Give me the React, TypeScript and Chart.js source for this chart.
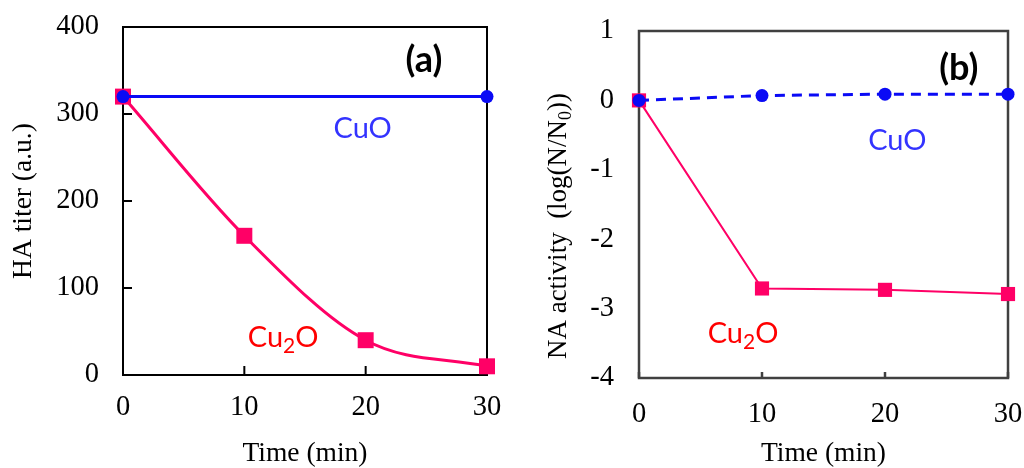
import React, { useEffect, useRef } from "react";
import { Chart, registerables } from "chart.js";
Chart.register(...registerables);

// ---- Data ----
const timeCuOA = [0, 30];
const haCuO = [320, 320];
const timeCu2OA = [0, 10, 20, 30];
const haCu2O = [320, 160, 40, 10];
const timeB = [0, 10, 20, 30];
const naCuO = [0, 0.07, 0.09, 0.09];
const naCu2O = [0, -2.71, -2.73, -2.79];
const xTickValues = [0, 10, 20, 30];
const yTicksA = [0, 100, 200, 300, 400];
const yTicksB = [-4, -3, -2, -1, 0, 1];

const PINK = "#FF0066";
const BLUE = "#0A0AF5";
const SERIF = "'Liberation Serif', 'Times New Roman', serif";
const SANS = "Lato, 'Noto Sans', sans-serif";

type Ann = {
  panel: string; panelX: number; panelY: number;
  cuoX: number; cuoY: number;
  cu2oX: number; cu2oY: number;
};

function makePlugin(opts: {
  frameColor: string; frameWidth: number;
  yTickLen: number; xTickLen: number;
  ann: Ann;
  yTitle?: { x: number; y: number };
}) {
  return {
    id: "framePlugin",
    beforeDatasetsDraw(chart: any) {
      const { ctx, chartArea: a, scales } = chart;
      ctx.save();
      ctx.strokeStyle = opts.frameColor;
      ctx.lineWidth = opts.frameWidth;
      ctx.strokeRect(a.left, a.top, a.right - a.left, a.bottom - a.top);
      ctx.beginPath();
      if (opts.xTickLen > 0) {
        for (const v of scales.x.ticks.map((t: any) => t.value)) {
          const px = scales.x.getPixelForValue(v);
          ctx.moveTo(px, a.bottom);
          ctx.lineTo(px, a.bottom - opts.xTickLen);
        }
      }
      if (opts.yTickLen > 0) {
        for (const v of scales.y.ticks.map((t: any) => t.value)) {
          const py = scales.y.getPixelForValue(v);
          ctx.moveTo(a.left, py);
          ctx.lineTo(a.left + opts.yTickLen, py);
        }
      }
      ctx.stroke();
      ctx.restore();
    },
    afterDraw(chart: any) {
      const { ctx, scales } = chart;
      const an = opts.ann;
      const X = (v: number) => scales.x.getPixelForValue(v);
      const Y = (v: number) => scales.y.getPixelForValue(v);
      ctx.save();
      ctx.textBaseline = "alphabetic";
      // panel label
      ctx.fillStyle = "#000";
      ctx.font = `bold 36px ${SANS}`;
      ctx.textAlign = "center";
      ctx.fillText(an.panel, X(an.panelX), Y(an.panelY));
      // CuO
      ctx.fillStyle = "#3333FF";
      ctx.font = `29px ${SANS}`;
      ctx.fillText("CuO", X(an.cuoX), Y(an.cuoY));
      // Cu2O
      ctx.fillStyle = "#FF0000";
      ctx.textAlign = "left";
      const big = `29px ${SANS}`;
      const small = `21px ${SANS}`;
      ctx.font = big;
      const w1 = ctx.measureText("Cu").width;
      const w3 = ctx.measureText("O").width;
      ctx.font = small;
      const w2 = ctx.measureText("2").width;
      let sx = X(an.cu2oX) - (w1 + w2 + w3) / 2;
      const by = Y(an.cu2oY);
      ctx.font = big;
      ctx.fillText("Cu", sx, by);
      sx += w1;
      ctx.font = small;
      ctx.fillText("2", sx, by + 6);
      sx += w2;
      ctx.font = big;
      ctx.fillText("O", sx, by);
      // custom y title with subscript
      if (opts.yTitle) {
        ctx.fillStyle = "#000";
        ctx.save();
        ctx.translate(opts.yTitle.x, opts.yTitle.y);
        ctx.rotate(-Math.PI / 2);
        const f1 = `27px ${SERIF}`;
        const f2 = `18px ${SERIF}`;
        const p1 = "NA activity  (log(N/N";
        const p2 = "0";
        const p3 = "))";
        ctx.font = f1;
        const a1 = ctx.measureText(p1).width;
        const a3 = ctx.measureText(p3).width;
        ctx.font = f2;
        const a2 = ctx.measureText(p2).width;
        let tx = -(a1 + a2 + a3) / 2;
        ctx.textBaseline = "middle";
        ctx.textAlign = "left";
        ctx.font = f1;
        ctx.fillText(p1, tx, 0);
        tx += a1;
        ctx.font = f2;
        ctx.fillText(p2, tx, 7);
        tx += a2;
        ctx.font = f1;
        ctx.fillText(p3, tx, 0);
        ctx.restore();
      }
      ctx.restore();
    },
  };
}

function pts(xs: number[], ys: number[]) {
  return xs.map((x, i) => ({ x, y: ys[i] }));
}

const noPad = (s: any) => {
  s.paddingTop = 0;
  s.paddingBottom = 0;
  s.paddingLeft = 0;
  s.paddingRight = 0;
};

function PanelA() {
  const ref = useRef<HTMLCanvasElement>(null);
  useEffect(() => {
    const chart = new Chart(ref.current!, {
      type: "line",
      data: {
        datasets: [
          {
            label: "CuO",
            data: pts(timeCuOA, haCuO),
            borderColor: BLUE,
            backgroundColor: BLUE,
            borderWidth: 3,
            pointStyle: "circle",
            pointRadius: 6.5,
            pointBorderWidth: 0,
            clip: false as any,
          },
          {
            label: "Cu2O",
            data: pts(timeCu2OA, haCu2O),
            borderColor: PINK,
            backgroundColor: PINK,
            borderWidth: 3,
            cubicInterpolationMode: "monotone",
            pointStyle: "rect",
            pointRadius: 11.3,
            pointBorderWidth: 0,
            clip: false as any,
          },
        ],
      },
      options: {
        animation: false,
        responsive: false,
        devicePixelRatio: 1,
        layout: { padding: { left: 0, right: 25, top: 27, bottom: 0 } },
        plugins: { legend: { display: false }, tooltip: { enabled: false } },
        scales: {
          x: {
            type: "linear",
            min: 0,
            max: 30,
            afterBuildTicks: (s: any) => { s.ticks = xTickValues.map((v) => ({ value: v })); },
            afterFit: (s: any) => { s.height = 93; noPad(s); },
            grid: { display: false, drawTicks: false },
            border: { display: false },
            ticks: { color: "#000", font: { family: SERIF, size: 28.5 }, padding: 15 },
            title: {
              display: true, text: "Time (min)", color: "#000",
              font: { family: SERIF, size: 27.5, lineHeight: 1 }, padding: { top: 0, bottom: 0 },
            },
          },
          y: {
            type: "linear",
            min: 0,
            max: 400,
            afterBuildTicks: (s: any) => { s.ticks = yTicksA.map((v) => ({ value: v })); },
            afterFit: (s: any) => { s.width = 123; noPad(s); },
            grid: { display: false, drawTicks: false },
            border: { display: false },
            ticks: { color: "#000", font: { family: SERIF, size: 28.5 }, padding: 24 },
            title: {
              display: true, text: "HA titer (a.u.)", color: "#000",
              font: { family: SERIF, size: 27.5, lineHeight: 1 }, padding: { top: 10, bottom: 0 },
            },
          },
        },
      },
      plugins: [
        makePlugin({
          frameColor: "#000", frameWidth: 2, yTickLen: 9, xTickLen: 9,
          ann: { panel: "(a)", panelX: 24.8, panelY: 348, cuoX: 19.75, cuoY: 272, cu2oX: 13.2, cu2oY: 32 },
        }),
      ],
    } as any);
    return () => chart.destroy();
  }, []);
  return <canvas ref={ref} width={512} height={468} style={{ position: "absolute", left: 0, top: 0 }} />;
}

function PanelB() {
  const ref = useRef<HTMLCanvasElement>(null);
  useEffect(() => {
    const chart = new Chart(ref.current!, {
      type: "line",
      data: {
        datasets: [
          {
            label: "CuO",
            data: pts(timeB, naCuO),
            borderColor: BLUE,
            backgroundColor: BLUE,
            borderWidth: 3,
            borderDash: [10, 7],
            pointStyle: "circle",
            pointRadius: 6.5,
            pointBorderWidth: 0,
            clip: false as any,
          },
          {
            label: "Cu2O",
            data: pts(timeB, naCu2O),
            borderColor: PINK,
            backgroundColor: PINK,
            borderWidth: 2,
            pointStyle: "rect",
            pointRadius: 10,
            pointBorderWidth: 0,
            clip: false as any,
          },
        ],
      },
      options: {
        animation: false,
        responsive: false,
        devicePixelRatio: 1,
        layout: { padding: { left: 0, right: 16, top: 31, bottom: 0 } },
        plugins: { legend: { display: false }, tooltip: { enabled: false } },
        scales: {
          x: {
            type: "linear",
            min: 0,
            max: 30,
            afterBuildTicks: (s: any) => { s.ticks = xTickValues.map((v) => ({ value: v })); },
            afterFit: (s: any) => { s.height = 90; noPad(s); },
            grid: { display: false, drawTicks: false },
            border: { display: false },
            ticks: { color: "#000", font: { family: SERIF, size: 28.5 }, padding: 19 },
            title: {
              display: true, text: "Time (min)", color: "#000",
              font: { family: SERIF, size: 27.5, lineHeight: 1 }, padding: { top: 0, bottom: 0 },
            },
          },
          y: {
            type: "linear",
            min: -4,
            max: 1,
            afterBuildTicks: (s: any) => { s.ticks = yTicksB.map((v) => ({ value: v })); },
            afterFit: (s: any) => { s.width = 127; noPad(s); },
            grid: { display: false, drawTicks: false },
            border: { display: false },
            ticks: { color: "#000", font: { family: SERIF, size: 28.5 }, padding: 25 },
            title: { display: false },
          },
        },
      },
      plugins: [
        makePlugin({
          frameColor: "#404040", frameWidth: 2.5, yTickLen: 0, xTickLen: 6,
          ann: { panel: "(b)", panelX: 26.0, panelY: 0.294, cuoX: 21.0, cuoY: -0.715, cu2oX: 8.46, cu2oY: -3.5 },
          yTitle: { x: 47, y: 226 },
        }),
      ],
    } as any);
    return () => chart.destroy();
  }, []);
  return <canvas ref={ref} width={512} height={468} style={{ position: "absolute", left: 512, top: 0 }} />;
}

export default function App() {
  return (
    <div style={{ position: "absolute", left: 0, top: 0, width: 1024, height: 468, background: "#fff", overflow: "hidden" }}>
      <PanelA />
      <PanelB />
    </div>
  );
}
